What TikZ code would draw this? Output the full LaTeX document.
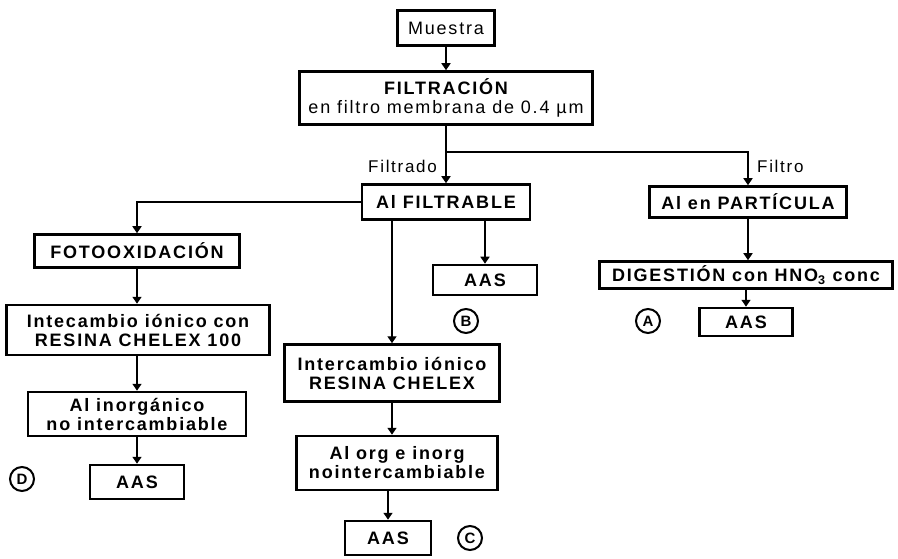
\documentclass[tikz,border=0pt]{standalone}
\usepackage{fontspec}
\setmainfont{Liberation Sans}[LetterSpace=10]
\usepackage{tikz}
\usetikzlibrary{arrows.meta}
\tikzset{
  box/.style={draw, line width=2.5pt, align=center, inner sep=2pt,
    font=\bfseries\fontsize{18}{19}\selectfont},
  plainbox/.style={box, font=\fontsize{18}{19}\selectfont},
  lbl/.style={font=\fontsize{17}{19}\selectfont, inner sep=1pt},
  circ/.style={circle, draw, line width=2pt, inner sep=1.5pt, minimum size=24pt,
    font=\bfseries\fontsize{15}{15}\selectfont},
  arr/.style={line width=1.4pt, -{Triangle[width=9pt,length=7pt]}}
}

\begin{document}
\begin{tikzpicture}[x=1pt, y=-1pt]
  \useasboundingbox (0,0) rectangle (898,559);
  % Top of the scheme
  \node[plainbox, minimum width=97pt, minimum height=35pt] (muestra) at (446,28) {Muestra};
  \node[box, minimum width=293pt, minimum height=53pt] (filtra) at (446,98)
    {FILTRACIÓN\\\mdseries en filtro membrana de 0.4 µm};
  \coordinate (split) at (446,152);
  \node[lbl, anchor=east] (filtrado) at (438,166) {Filtrado};
  \node[lbl, anchor=west] (filtro) at (756,166) {Filtro};
  % Second row
  \node[box, minimum width=168pt, minimum height=35pt] (filtrable) at (446,202) {Al FILTRABLE};
  \node[box, minimum width=197pt, minimum height=31pt] (particula) at (748,202) {Al en PARTÍCULA};
  % Left branch
  \node[box, minimum width=205pt, minimum height=33pt] (fotoox) at (137,251) {FOTOOXIDACIÓN};
  \node[box, minimum width=263pt, minimum height=50pt] (resinaD) at (138,330)
    {Intecambio iónico con\\RESINA CHELEX 100};
  \node[box, minimum width=218pt, minimum height=44pt] (inorg) at (137,414)
    {Al inorgánico\\no intercambiable};
  \node[box, minimum width=94pt, minimum height=34pt] (aasD) at (137,482) {AAS};
  \node[circ] (markD) at (22,479) {D};
  % Middle branch
  \node[box, minimum width=104pt, minimum height=30pt] (aasB) at (485,280) {AAS};
  \node[circ] (markB) at (466,321) {B};
  \node[box, minimum width=215pt, minimum height=57pt] (resinaC) at (392,373)
    {Intercambio iónico\\RESINA CHELEX};
  \node[box, minimum width=201pt, minimum height=54pt] (orgin) at (397,463)
    {Al org e inorg\\nointercambiable};
  \node[box, minimum width=86pt, minimum height=34pt] (aasC) at (388,538) {AAS};
  \node[circ] (markC) at (470,538) {C};
  % Right branch
  \node[box, minimum width=293pt, minimum height=27pt, inner ysep=1pt] (digest) at (746,275)
    {DIGESTIÓN con HNO\textsubscript{3} conc};
  \node[box, minimum width=93pt, minimum height=28pt] (aasA) at (746,322) {AAS};
  \node[circ] (markA) at (648,321) {A};
  % Connectors
  \draw[arr] (muestra) -- (filtra);
  \draw[arr] (filtra) -- (filtrable);
  \draw[arr] (split) -| (particula.north);
  \draw[arr] (filtrable.west) -| (fotoox.north);
  \draw[arr] (fotoox.south) -- (fotoox.south |- resinaD.north);
  \draw[arr] (resinaD.south -| fotoox.south) -- (fotoox.south |- inorg.north);
  \draw[arr] (inorg.south) -- (inorg.south |- aasD.north);
  \draw[arr] (filtrable.south -| aasB) -- (aasB.north);
  \draw[arr] (filtrable.south -| resinaC) -- (resinaC.north);
  \draw[arr] (resinaC.south) -- (resinaC.south |- orgin.north);
  \draw[arr] (orgin.south -| aasC) -- (aasC.north);
  \draw[arr] (particula.south) -- (particula.south |- digest.north);
  \draw[arr] (digest.south) -- (aasA.north);
\end{tikzpicture}
\end{document}
